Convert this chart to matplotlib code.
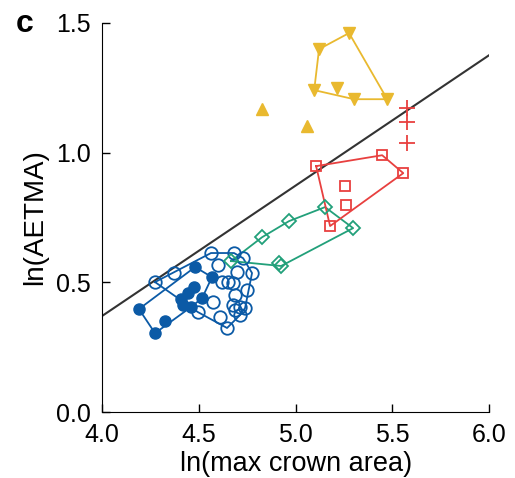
import numpy as np
import matplotlib
matplotlib.use('Agg')
import matplotlib.pyplot as plt

plt.rcParams['font.family'] = ['Liberation Sans', 'DejaVu Sans']

# open blue circles
open_x = [4.274, 4.372, 4.563, 4.682, 4.599, 4.729, 4.775, 4.698, 4.651, 4.620, 4.677,
          4.749, 4.687, 4.574, 4.677, 4.713, 4.739, 4.610, 4.687, 4.646, 4.496, 4.713]
open_y = [0.501, 0.536, 0.613, 0.613, 0.566, 0.593, 0.536, 0.539, 0.501, 0.501, 0.497,
          0.470, 0.451, 0.424, 0.412, 0.405, 0.401, 0.366, 0.393, 0.324, 0.385, 0.374]

# filled blue circles
fill_x = [4.191, 4.326, 4.274, 4.481, 4.568, 4.408, 4.444, 4.475, 4.419, 4.460, 4.517]
fill_y = [0.397, 0.351, 0.304, 0.559, 0.520, 0.435, 0.459, 0.482, 0.412, 0.405, 0.439]

# green diamonds
dia_x = [4.667, 4.827, 4.966, 5.152, 5.297, 4.915, 4.925]
dia_y = [0.582, 0.674, 0.736, 0.790, 0.709, 0.574, 0.563]

# red squares
sq_x = [5.106, 5.447, 5.556, 5.178, 5.256, 5.261]
sq_y = [0.948, 0.990, 0.921, 0.717, 0.871, 0.798]

# red plus
plus_x = [5.576, 5.576, 5.576]
plus_y = [1.171, 1.118, 1.037]

# yellow down triangles
tri_x = [5.121, 5.276, 5.473, 5.302, 5.096, 5.214]
tri_y = [1.399, 1.461, 1.206, 1.206, 1.241, 1.249]

# yellow up triangles
up_x = [4.827, 5.059]
up_y = [1.168, 1.102]

# reference line
line_x = [4.0, 6.0]
line_a, line_b = 0.37, 0.503

BLUE = '#0b5aa6'
GREEN = '#22a07a'
RED = '#e8403f'
YELLOW = '#e9b92f'


def hull(xs, ys):
    # monotone chain convex hull, closed
    pts = sorted(set(zip(xs, ys)))

    def cross(o, a, b):
        return (a[0] - o[0]) * (b[1] - o[1]) - (a[1] - o[1]) * (b[0] - o[0])
    lower, upper = [], []
    for p in pts:
        while len(lower) >= 2 and cross(lower[-2], lower[-1], p) <= 0:
            lower.pop()
        lower.append(p)
    for p in reversed(pts):
        while len(upper) >= 2 and cross(upper[-2], upper[-1], p) <= 0:
            upper.pop()
        upper.append(p)
    h = lower[:-1] + upper[:-1]
    h.append(h[0])
    return [p[0] for p in h], [p[1] for p in h]


fig = plt.figure(figsize=(5.15, 4.78), dpi=100)
ax = fig.add_axes([0.198, 0.138, 0.752, 0.814])

lx = np.array(line_x)
ax.plot(lx, line_a + line_b * (lx - 4.0), color='#333333', lw=1.5, zorder=1)

for xs, ys, c in [(open_x, open_y, BLUE), (fill_x, fill_y, BLUE),
                  (dia_x, dia_y, GREEN), (sq_x, sq_y, RED), (tri_x, tri_y, YELLOW)]:
    hx, hy = hull(xs, ys)
    ax.plot(hx, hy, color=c, lw=1.3, zorder=2)

ax.plot(open_x, open_y, 'o', ms=9, mfc='none', mec=BLUE, mew=1.3, zorder=3)
ax.plot(fill_x, fill_y, 'o', ms=8, mfc=BLUE, mec=BLUE, zorder=3)
ax.plot(dia_x, dia_y, 'D', ms=7, mfc='none', mec=GREEN, mew=1.3, zorder=3)
ax.plot(sq_x, sq_y, 's', ms=7, mfc='none', mec=RED, mew=1.3, zorder=3)
ax.plot(plus_x, plus_y, '+', ms=11, mec=RED, mew=1.3, zorder=3)
ax.plot(tri_x, tri_y, 'v', ms=8, mfc=YELLOW, mec=YELLOW, zorder=3)
ax.plot(up_x, up_y, '^', ms=8, mfc=YELLOW, mec=YELLOW, zorder=3)

ax.set_xlim(4.0, 6.0)
ax.set_ylim(0.0, 1.5)
ax.set_xticks([4.0, 4.5, 5.0, 5.5, 6.0])
ax.set_yticks([0.0, 0.5, 1.0, 1.5])
ax.xaxis.set_major_formatter(matplotlib.ticker.FormatStrFormatter('%.1f'))
ax.yaxis.set_major_formatter(matplotlib.ticker.FormatStrFormatter('%.1f'))
ax.tick_params(direction='in', length=6, width=1, labelsize=18)
ax.tick_params(axis='y', pad=8)
ax.tick_params(axis='x', pad=8)
ax.spines['top'].set_visible(False)
ax.spines['right'].set_visible(False)
ax.set_xlabel('ln(max crown area)', fontsize=19.5, labelpad=3)
ax.set_ylabel('ln(AETMA)', fontsize=20, labelpad=6)
for lab in ax.get_xticklabels() + ax.get_yticklabels():
    lab.set_clip_on(False)

fig.text(0.047, 0.95, 'c', fontsize=23, fontweight='bold', va='center', ha='center')

fig.savefig('out.png', dpi=100)
